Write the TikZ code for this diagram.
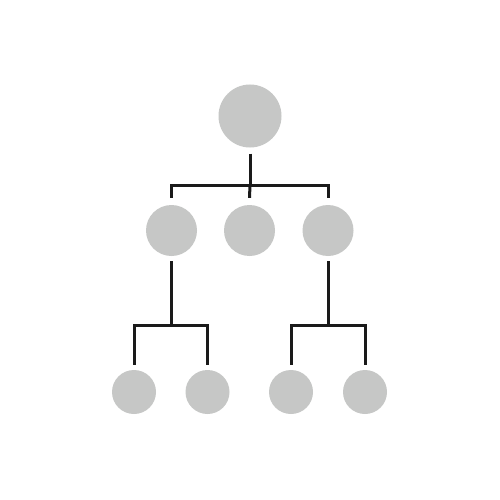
\documentclass[tikz,border=0pt]{standalone}
\definecolor{nodegray}{HTML}{C6C7C6}
\definecolor{linecol}{HTML}{1A1A1A}
\tikzset{
  dot/.style={circle, fill=nodegray, draw=none, inner sep=0pt},
  conn/.style={draw=linecol, line width=3pt, line cap=butt, line join=miter}
}
\begin{document}
\begin{tikzpicture}[x=1pt,y=-1pt]
\fill[white] (0,0) rectangle (500,500);
\useasboundingbox (0,0) rectangle (500,500);
\node[dot, minimum size=63pt] (t) at (250,116) {};
\node[dot, minimum size=51pt] (m1) at (171.5,230.5) {};
\node[dot, minimum size=51pt] (m2) at (249.5,230.5) {};
\node[dot, minimum size=51pt] (m3) at (328,230.5) {};
\node[dot, minimum size=44pt] (l1) at (134,392) {};
\node[dot, minimum size=44pt] (l2) at (207.5,392) {};
\node[dot, minimum size=44pt] (l3) at (291,392) {};
\node[dot, minimum size=44pt] (l4) at (365,392) {};
\coordinate (b1) at (250,185);
\coordinate (b2) at (171.5,325);
\coordinate (b3) at (328,325);
% top level
\draw[conn] ([yshift=-6pt]t.south) -- (b1);
\draw[conn] ([yshift=7pt]m1.north) |- (b1) -| ([yshift=7pt]m3.north);
\draw[conn] (b1) -- ([yshift=7pt]m2.north);
% left branch
\draw[conn] ([yshift=-5pt]m1.south) -- (b2);
\draw[conn] ([yshift=5pt]l1.north) |- (b2) -| ([yshift=5pt]l2.north);
% right branch
\draw[conn] ([yshift=-5pt]m3.south) -- (b3);
\draw[conn] ([yshift=5pt]l3.north) |- (b3) -| ([yshift=5pt]l4.north);
\end{tikzpicture}
\end{document}
